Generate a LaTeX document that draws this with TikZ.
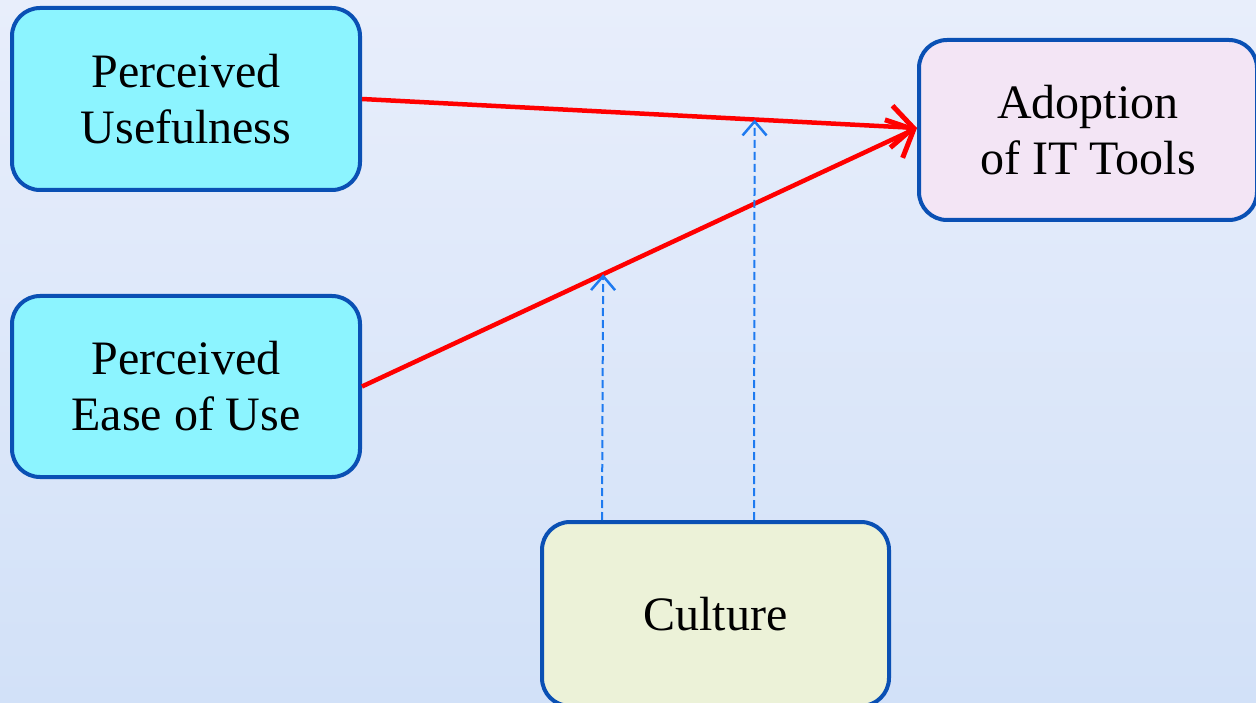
\documentclass[tikz,border=0pt]{standalone}
\usepackage{fontspec}
\setmainfont{Liberation Serif}
\usetikzlibrary{arrows.meta,calc}

\definecolor{boxline}{HTML}{0A50B4}
\definecolor{cyanfill}{HTML}{8CF4FF}
\definecolor{pinkfill}{HTML}{F3E5F5}
\definecolor{greenfill}{HTML}{ECF2D8}
\definecolor{redline}{HTML}{FF0000}
\definecolor{blueline}{HTML}{1E7AF0}
\definecolor{bgtop}{HTML}{E8EEFB}
\definecolor{bgbot}{HTML}{D2E1F8}

\tikzset{
  factor/.style={draw=boxline, line width=4pt, rounded corners=28pt,
    align=center, inner sep=0pt, font=\fontsize{48}{56}\selectfont},
  effect/.style={draw=redline, line width=4.5pt,
    -{Straight Barb[length=22pt,width=42pt,line width=5pt]}},
  moderate/.style={draw=blueline, line width=2pt, dash pattern=on 8pt off 4pt,
    -{Straight Barb[length=14pt,width=24pt,line width=2.5pt]}}
}

\begin{document}
\begin{tikzpicture}[x=1pt,y=-1pt]
\useasboundingbox (0,0) rectangle (1256,703);
\clip (0,0) rectangle (1256,703);
% Drawing background
\shade[top color=bgtop, bottom color=bgbot] (0,0) rectangle (1256,703);
% Drawing boxes
\node[factor, fill=cyanfill, minimum width=348pt, minimum height=182pt] (pu) at (186,99) {Perceived\\Usefulness};
\node[factor, fill=cyanfill, minimum width=348pt, minimum height=181pt] (peu) at (186,386.5) {Perceived\\Ease of Use};
\node[factor, fill=pinkfill, minimum width=338pt, minimum height=180pt] (ad) at (1088,130) {Adoption\\of IT Tools};
\node[factor, fill=greenfill, minimum width=347pt, minimum height=184pt] (cu) at (715.5,614) {Culture};
% Drawing direct effects
\coordinate (tip) at (917,128);
\draw[effect] (pu.east) -- (tip);
\draw[effect] (peu.east) -- (tip);
% Drawing moderating effects
\coordinate (m1) at ($(peu.east)!0.4345!(tip)$);
\coordinate (m2) at ($(pu.east)!0.7074!(tip)$);
\draw[moderate] (cu.north -| 602,0) -- (m1);
\draw[moderate] (cu.north -| 754,0) -- (m2);
\end{tikzpicture}
\end{document}
